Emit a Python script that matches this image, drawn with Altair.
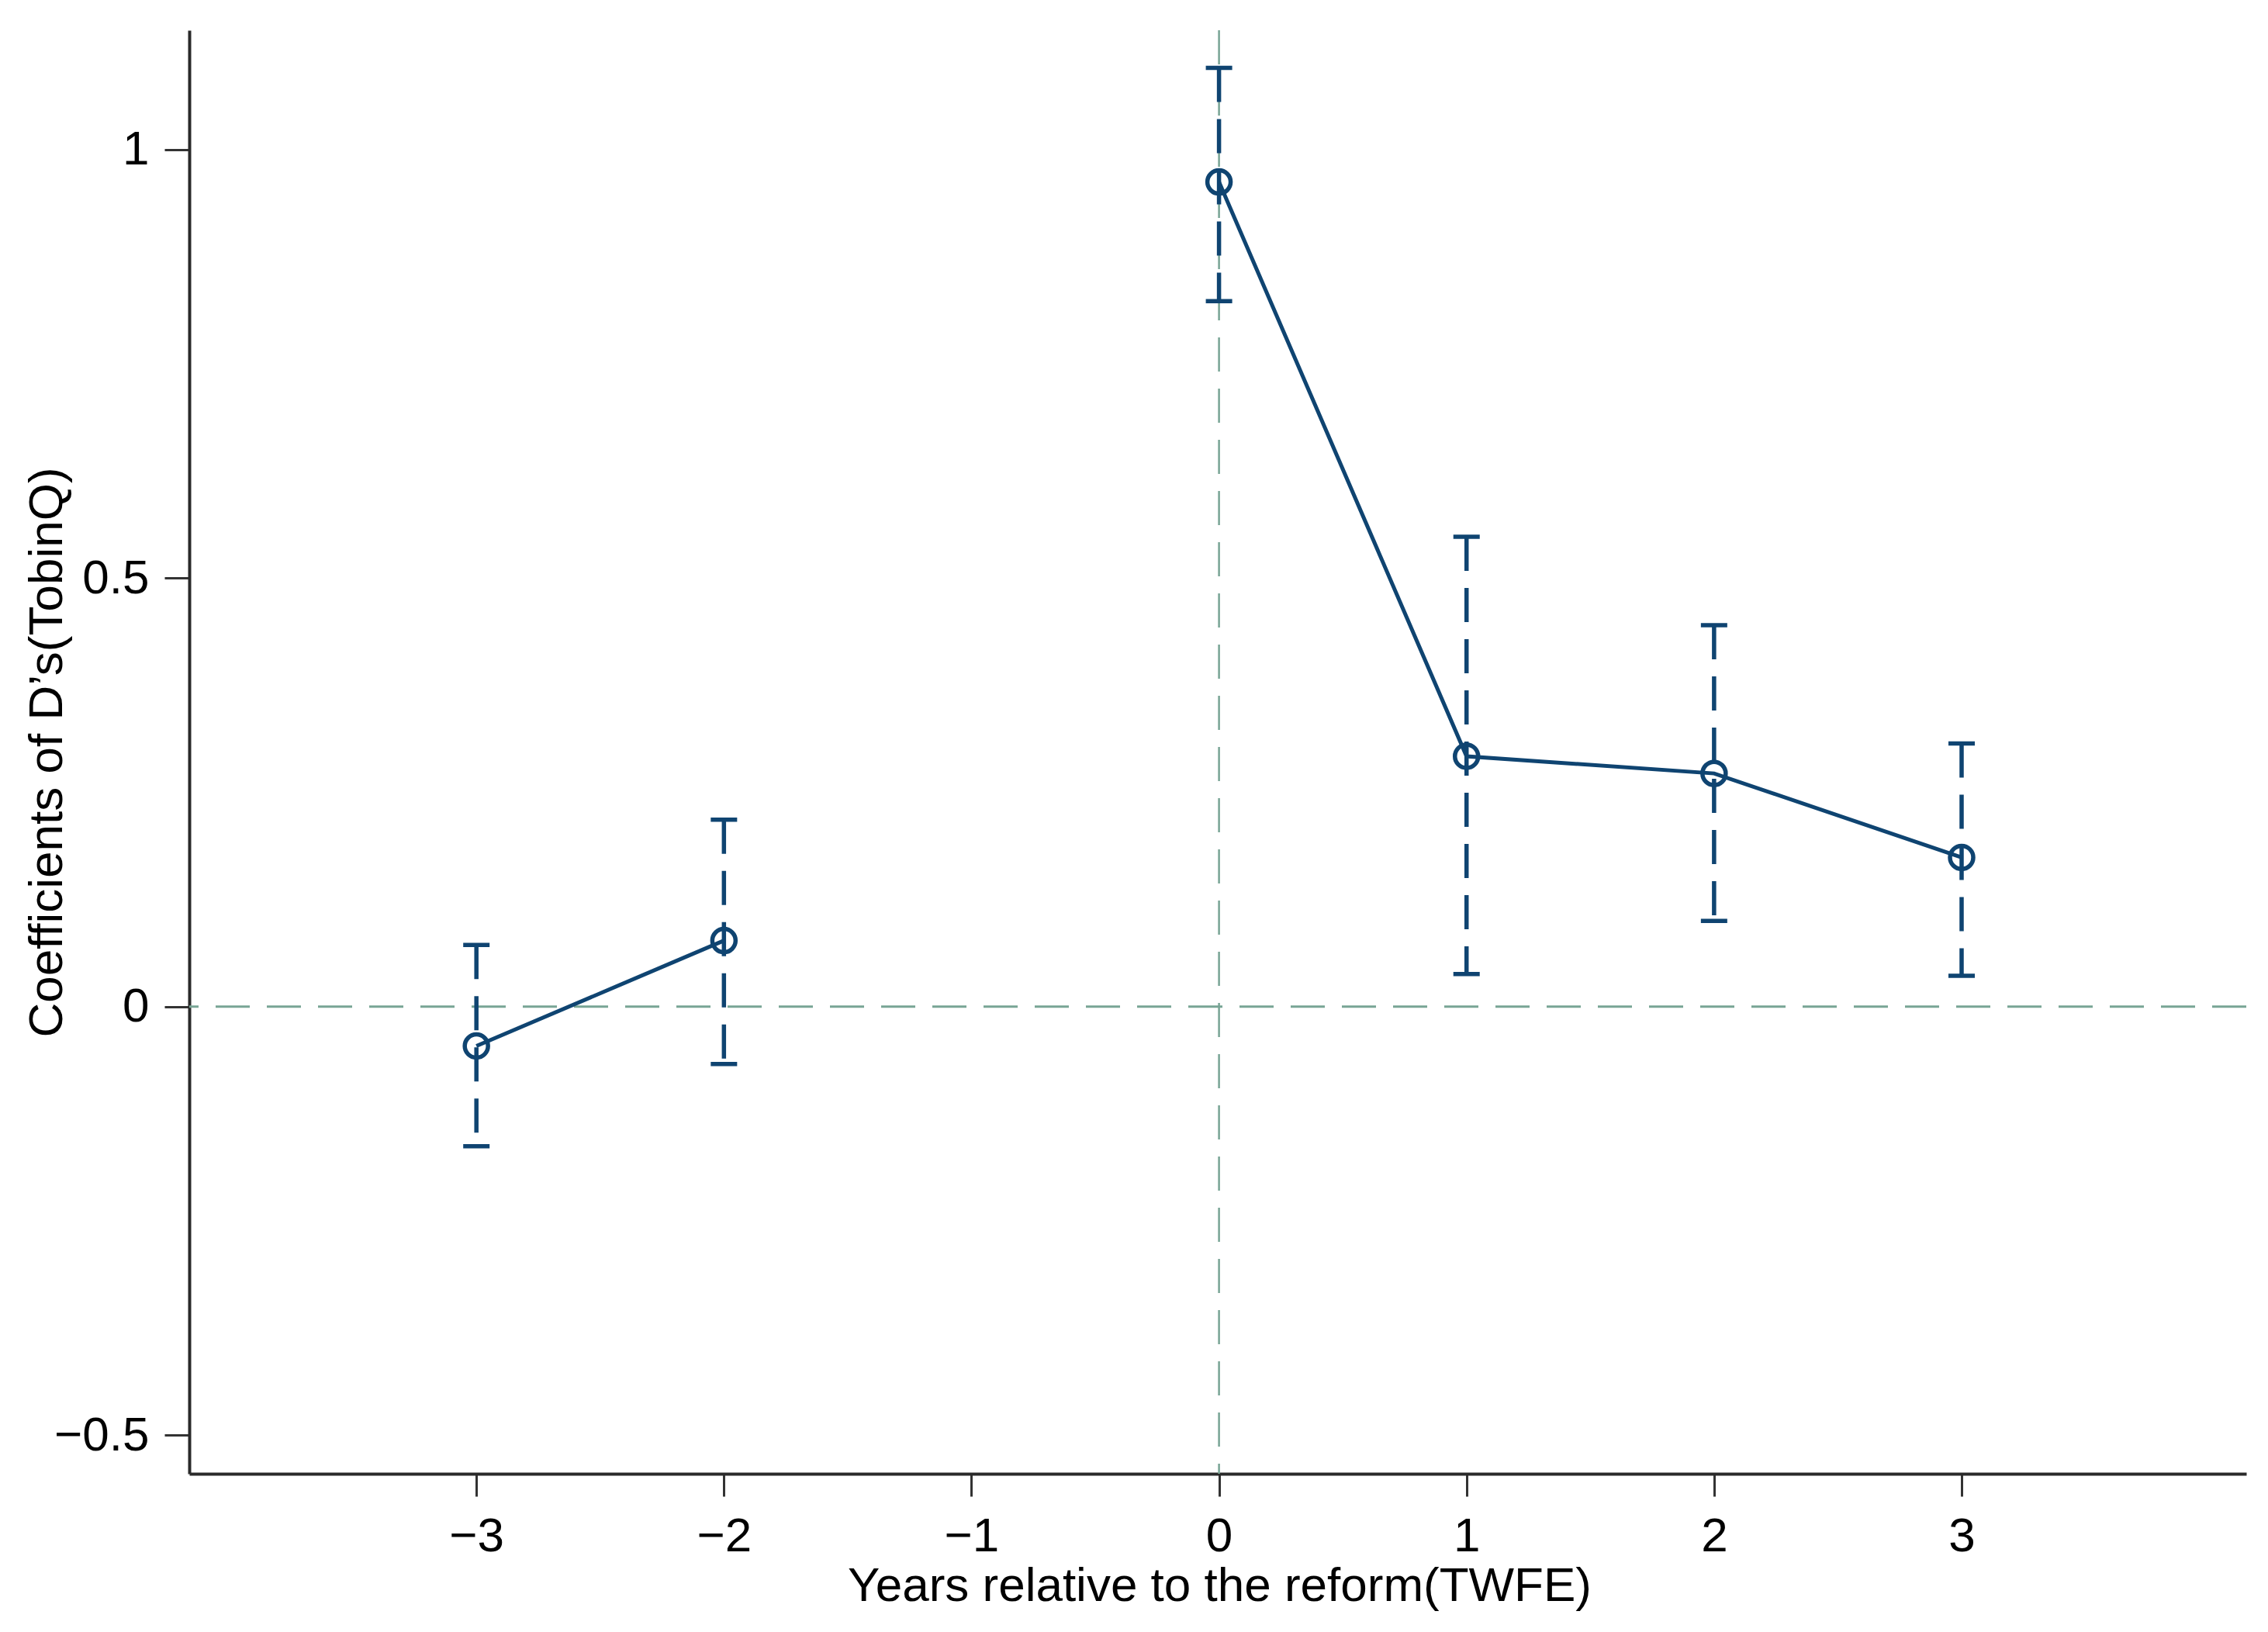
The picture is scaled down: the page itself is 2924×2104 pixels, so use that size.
import altair as alt
import pandas as pd

# ---- data ----
years = [-3, -2, 0, 1, 2, 3]
coef = [-0.046, 0.077, 0.962, 0.292, 0.272, 0.174]
ci_low = [-0.163, -0.067, 0.823, 0.038, 0.100, 0.036]
ci_high = [0.072, 0.218, 1.095, 0.548, 0.445, 0.307]
segment = ["pre", "pre", "post", "post", "post", "post"]

x_ticks = [-3, -2, -1, 0, 1, 2, 3]
y_ticks = [-0.5, 0, 0.5, 1]

NAVY = "#0f4471"
REF = "#78a595"
FONT = "Liberation Sans"
FS = 62

df = pd.DataFrame({"year": years, "coef": coef, "lo": ci_low, "hi": ci_high, "seg": segment})
zero_df = pd.DataFrame({"v": [0]})

xscale = alt.Scale(domain=[-4.16, 4.15], nice=False, zero=False)
yscale = alt.Scale(domain=[-0.545, 1.139], nice=False, zero=False)

PLOT_W = 2652
PLOT_H = 1861

xaxis = alt.Axis(
    values=x_ticks, format="d", title="Years relative to the reform(TWFE)",
    grid=False, tickSize=29, tickWidth=3, tickColor="#333333",
    domainColor="#2a2a2a", domainWidth=4,
    labelFont=FONT, labelFontSize=FS, labelColor="black", labelPadding=21,
    titleFont=FONT, titleFontSize=FS, titleFontWeight="normal", titleColor="black",
    titleBaseline="alphabetic", titleY=163, titleX=PLOT_W / 2 + 2,
)
yaxis = alt.Axis(
    values=y_ticks, format="~g", title="Coefficients of D\u2019s(TobinQ)",
    grid=False, tickSize=32, tickWidth=3, tickColor="#333333",
    domainColor="#2a2a2a", domainWidth=4,
    labelFont=FONT, labelFontSize=FS, labelColor="black", labelPadding=20,
    titleFont=FONT, titleFontSize=FS, titleFontWeight="normal", titleColor="black",
    titleAngle=270, titleAlign="center", titleBaseline="alphabetic",
    titleX=-165, titleY=PLOT_H / 2,
)

hline = alt.Chart(zero_df).mark_rule(color=REF, strokeWidth=3, strokeDash=[44, 22]).encode(
    y=alt.Y("v:Q", scale=yscale, axis=yaxis)
)
vline = alt.Chart(zero_df).mark_rule(color=REF, strokeWidth=2.5, strokeDash=[44, 22]).encode(
    x=alt.X("v:Q", scale=xscale, axis=xaxis)
)

bars = alt.Chart(df).mark_rule(color=NAVY, strokeWidth=5.5, strokeDash=[44, 22]).encode(
    x=alt.X("year:Q", scale=xscale, axis=xaxis),
    y=alt.Y("hi:Q", scale=yscale, axis=yaxis),
    y2="lo:Q",
)
cap_hi = alt.Chart(df).mark_tick(color=NAVY, orient="horizontal", size=34, thickness=5.5, opacity=1).encode(
    x=alt.X("year:Q", scale=xscale, axis=xaxis),
    y=alt.Y("hi:Q", scale=yscale, axis=yaxis),
)
cap_lo = alt.Chart(df).mark_tick(color=NAVY, orient="horizontal", size=34, thickness=5.5, opacity=1).encode(
    x=alt.X("year:Q", scale=xscale, axis=xaxis),
    y=alt.Y("lo:Q", scale=yscale, axis=yaxis),
)
line = alt.Chart(df).mark_line(color=NAVY, strokeWidth=5).encode(
    x=alt.X("year:Q", scale=xscale, axis=xaxis),
    y=alt.Y("coef:Q", scale=yscale, axis=yaxis),
    detail="seg:N",
)
pts = alt.Chart(df).mark_point(shape="circle", filled=False, color=NAVY, size=900, strokeWidth=5.5, opacity=1).encode(
    x=alt.X("year:Q", scale=xscale, axis=xaxis),
    y=alt.Y("coef:Q", scale=yscale, axis=yaxis),
)

chart = alt.layer(hline, vline, bars, cap_hi, cap_lo, line, pts).properties(
    width=PLOT_W,
    height=PLOT_H,
    autosize=alt.AutoSizeParams(type="none"),
    padding={"left": 236, "top": 31, "right": 20, "bottom": 200},
    background="white",
).configure_view(stroke=None)

chart.save("out.html", embed_options={"renderer": "svg", "actions": False})
